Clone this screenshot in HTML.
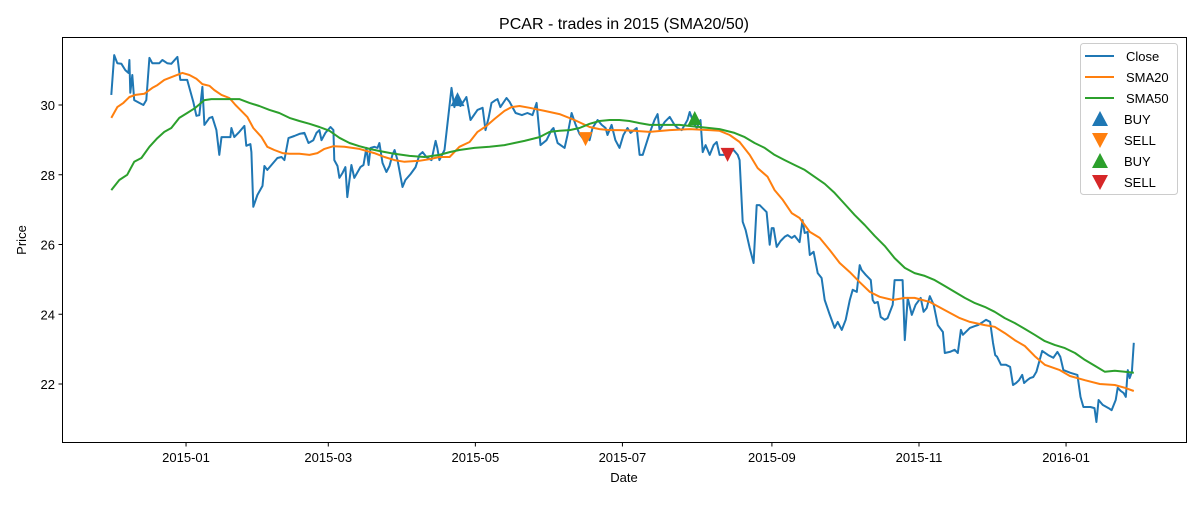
<!DOCTYPE html>
<html><head><meta charset="utf-8"><style>
body{margin:0;background:#fff;}
svg text{font-family:"Liberation Sans","DejaVu Sans",sans-serif;fill:#000;}
</style></head><body>
<svg id="chart" width="1200" height="500" xmlns="http://www.w3.org/2000/svg">
<rect width="1200" height="500" fill="#fff"/>
<text x="624" y="29" font-size="16" text-anchor="middle">PCAR - trades in 2015 (SMA20/50)</text>
<g id="plot"></g>
<rect x="62.5" y="37.5" width="1124" height="405" fill="none" stroke="#000" stroke-width="1"/>
<text x="624" y="482" font-size="13" text-anchor="middle">Date</text>
<text x="26" y="240" font-size="13" text-anchor="middle" transform="rotate(-90 26 240)">Price</text>
<g>
<rect x="1080.5" y="43.5" width="97" height="151" rx="3" fill="#fff" fill-opacity="0.8" stroke="#ccc"/>
<line x1="1085" y1="56" x2="1114" y2="56" stroke="#1f77b4" stroke-width="2"/>
<text x="1126" y="61" font-size="13">Close</text>
<line x1="1085" y1="77" x2="1114" y2="77" stroke="#ff7f0e" stroke-width="2"/>
<text x="1126" y="82" font-size="13">SMA20</text>
<line x1="1085" y1="98" x2="1114" y2="98" stroke="#2ca02c" stroke-width="2"/>
<text x="1126" y="103" font-size="13">SMA50</text>
<polygon points="1100,111 1108,126 1092,126" fill="#1f77b4"/>
<text x="1124" y="124" font-size="13">BUY</text>
<polygon points="1092,133 1108,133 1100,148" fill="#ff7f0e"/>
<text x="1124" y="145" font-size="13">SELL</text>
<polygon points="1100,153 1108,168 1092,168" fill="#2ca02c"/>
<text x="1124" y="166" font-size="13">BUY</text>
<polygon points="1092,175 1108,175 1100,190" fill="#d62728"/>
<text x="1124" y="187" font-size="13">SELL</text>
</g>
</svg>
<script>
// days since 2014-12-01 and values
const closeDays=[0,1.2,2.5,4.2,5.8,7.1,7.5,7.9,8.7,9.5,11.6,13.3,14.5,15.8,17,19.9,21.2,23.2,24.9,27.4,28.6,30.3,31.5,34,35.3,36.5,37.8,38.6,40.7,41.9,43.6,44.8,45.7,49.4,49.8,51,53.1,55.2,56,57.7,58.1,58.9,60.6,62.7,63.5,64.7,66.8,68.9,70.6,71.8,73.5,75.9,78,80.1,81.8,83.8,85.1,86.3,87.2,88.8,90.9,92.1,92.5,93.8,94.6,95.9,97.1,97.9,99.6,100.8,103.3,104.6,105.8,106.7,107.5,109.1,110.4,111.2,112.5,114.1,115.4,116.6,117.5,118.7,120.8,122,124.1,126.2,127.8,129.1,130.7,132.8,134.5,135.2,136.1,138.2,140.3,141.1,142.3,143.6,144.8,146.5,147.3,149,151.9,154,155.2,156.5,157.7,159.4,160.2,161.4,163.9,165.2,167.7,170.3,172.6,174.7,176.4,178,180.5,182.6,183.4,185.1,188,189.2,190.9,192.6,194.2,195.5,197.5,198.4,199.6,201.7,203.4,205,205.8,207.5,209.1,210.8,212.4,214.1,215.4,217.9,219.1,220.4,223.3,225.3,226.6,227.4,229.5,231.6,233.6,234.9,236.6,239,239.9,241.5,242.8,244.4,245.3,246.5,248.2,249.8,251.1,252.3,254,256.1,258.1,259.8,260.6,261.9,263.1,264.8,266.4,267.7,268.9,271.8,273.1,273.9,274.7,276,277.6,279.3,280.5,282.2,283.4,285.5,286.7,287.6,288.8,289.7,291.3,293,294.6,295.9,298,300,301.3,303,304.6,306.3,307.5,309.2,310.4,311.2,312.9,315,315.8,316.6,317.9,319.1,320.8,322,324.1,324.9,327,328.2,329.1,330.3,332,333.6,335.7,336.9,338.2,339.5,341.1,342.8,344.9,345.7,347.8,349.8,351.1,352.4,353.2,356.1,358.2,359.5,361.5,362.8,364.5,365.7,366.6,367.4,369,371.1,372.8,374,375.3,376.5,377.8,378.6,379.9,381.1,382.4,383.7,386.1,388.6,390.7,392.4,393.6,394.9,397.8,400.7,402,403.2,406.1,407.8,408.6,409.5,411.2,413.6,414.9,416.6,417.4,418.7,419.9,420.8,421.6,422.4,423.3,424.1];
const closeVals=[30.29,31.43,31.2,31.18,31,30.92,31.29,30.35,30.86,30.14,30.06,30,30.14,31.35,31.2,31.2,31.29,31.2,31.18,31.38,30.72,30.72,30.72,30.09,29.69,29.71,30.52,29.43,29.63,29.66,29.28,28.57,29.08,29.08,29.34,29.08,29.23,29.4,28.83,28.88,28.65,27.08,27.42,27.68,28.25,28.14,28.31,28.48,28.51,28.42,29.05,29.11,29.17,29.2,28.91,28.99,29.2,29.28,28.99,29.2,29.37,29.28,28.42,28.25,27.91,28.05,28.22,27.36,28.28,27.91,28.22,28.28,28.77,28.28,28.77,28.8,28.77,28.91,28.34,28.08,28.25,28.57,28.71,28.42,27.65,27.85,28.02,28.22,28.57,28.65,28.51,28.42,28.97,28.77,28.42,28.71,30,30.49,29.94,30.29,29.97,30.14,30.23,29.57,29.86,29.92,29.28,29.63,30.06,30.14,30.17,29.94,30.2,30.09,29.77,29.71,29.77,29.71,30.06,28.85,28.99,29.28,29.34,28.91,28.77,29.14,29.77,29.43,29.17,29.05,29.14,28.99,29.34,29.57,29.43,29.34,29.14,29.43,28.99,28.77,29.14,29.34,29.2,29.34,28.57,28.57,29.2,29.57,29.74,29.28,29.51,29.66,29.43,29.34,29.28,29.57,29.8,29.48,29.34,29.57,28.65,28.85,28.57,28.85,28.94,28.57,28.57,28.65,28.71,28.57,28.42,26.65,26.42,25.9,25.47,27.13,27.13,26.93,25.99,26.47,26.47,25.93,26.1,26.22,26.27,26.19,26.25,26.07,26.7,26.33,26.36,25.7,25.79,25.18,25.04,24.41,23.98,23.61,23.78,23.55,23.84,24.41,24.7,24.64,25.41,25.27,25.13,24.98,24.41,24.32,24.35,23.92,23.84,23.89,24.27,24.98,24.98,24.98,23.26,24.47,23.98,24.27,24.47,24.07,24.18,24.52,24.27,23.69,23.49,22.89,22.92,22.98,22.89,23.55,23.41,23.61,23.66,23.69,23.78,23.84,23.78,23.18,22.83,22.78,22.55,22.55,22.49,21.97,22.03,22.11,22.26,22.03,22.11,22.17,22.2,22.35,22.95,22.83,22.75,22.92,22.78,22.4,22.32,22.26,21.63,21.34,21.34,21.31,20.91,21.54,21.4,21.31,21.25,21.54,21.89,21.8,21.74,21.63,22.4,22.17,22.35,23.18];
const sma20Days=[0,2.5,5,7.5,10,13.7,17,19.1,22,26.1,29.5,32.4,35.3,37.8,40.7,42.7,45.7,49,51.5,53.1,56.4,58.9,62.3,64.7,67.6,71,73.9,78,82.2,85.5,88.4,92.1,96.7,102.9,109.1,113.3,117.4,121.6,127.8,132,136.1,140.3,144.4,148.6,151.9,155.6,159,163.1,166,169.3,173.5,179.7,185.9,192.1,198.4,202.5,206.7,210.8,217,223.3,231.6,239.9,248.2,252.3,256.5,260.6,264.8,268.1,272.2,275.1,278.5,282.2,285.5,289.7,293.8,298,302.1,306.3,310.4,314.6,318.7,324.1,329.1,333.2,339.5,345.7,351.9,356.1,362.3,366.4,370.6,374.7,378.9,383,387.2,393.4,397.6,403.8,410,416.2,420.4,424.1];
const sma20Vals=[29.63,29.94,30.06,30.23,30.29,30.32,30.49,30.57,30.72,30.83,30.92,30.86,30.75,30.6,30.55,30.43,30.29,30.2,30,29.89,29.66,29.34,29.08,28.8,28.71,28.62,28.6,28.6,28.57,28.62,28.74,28.82,28.8,28.74,28.62,28.51,28.42,28.37,28.4,28.45,28.51,28.51,28.8,28.94,29.23,29.4,29.6,29.83,29.94,29.97,29.92,29.83,29.74,29.57,29.37,29.31,29.28,29.28,29.26,29.23,29.28,29.31,29.28,29.26,29.14,28.94,28.57,28.19,27.94,27.56,27.28,26.9,26.76,26.36,26.19,25.84,25.47,25.21,24.92,24.64,24.5,24.41,24.47,24.47,24.35,24.12,23.89,23.78,23.69,23.64,23.46,23.26,23.09,22.8,22.55,22.4,22.23,22.11,22,21.97,21.89,21.8];
const sma50Days=[0,3.3,6.6,9.5,12.5,15.8,19.1,22,24.9,28.2,31.5,34.9,38.6,41.5,49,53.1,57.3,61.4,65.6,69.7,73.9,78,82.2,86.3,90.5,94.6,98.8,102.9,107.1,111.2,117.4,123.7,129.9,136.1,140.3,144.4,150.6,156.9,163.1,167.2,171.4,177.6,181.8,185.9,190.1,194.2,198.4,202.5,206.7,210.8,214.9,219.1,223.3,235.7,244,252.3,258.5,262.7,266.8,271,275.1,279.3,283.4,287.6,291.7,295.9,300,304.2,308.3,312.5,316.6,320.8,324.9,329.1,333.2,337.4,341.5,345.7,349.8,354,358.2,362.3,366.4,370.6,374.7,378.9,383,387.2,391.3,395.5,399.7,403.8,408,412.1,416.2,420.4,424.1];
const sma50Vals=[27.56,27.85,28,28.37,28.48,28.8,29.05,29.23,29.34,29.63,29.77,29.92,30.14,30.17,30.17,30.17,30.06,29.97,29.86,29.77,29.63,29.54,29.46,29.37,29.26,29.06,28.91,28.82,28.74,28.68,28.6,28.54,28.51,28.57,28.65,28.71,28.77,28.8,28.85,28.91,28.97,29.08,29.23,29.26,29.28,29.34,29.46,29.54,29.57,29.57,29.54,29.48,29.43,29.43,29.37,29.31,29.2,29.08,28.91,28.77,28.57,28.42,28.28,28.14,27.94,27.74,27.48,27.16,26.85,26.56,26.25,25.96,25.61,25.33,25.18,25.1,24.98,24.81,24.64,24.47,24.32,24.21,24.07,23.89,23.75,23.58,23.41,23.23,23.12,23.03,22.89,22.69,22.52,22.35,22.38,22.35,22.32];
const tradeDays=[143.6,196.7,242,255.6];
const tradeVals=[30.14,29.05,29.6,28.6];
const tradeTypes=["buy","sell","buy","sell"];
const tradeColors=["#1f77b4","#ff7f0e","#2ca02c","#d62728"];
const yTicks=[22,24,26,28,30];
const xTickDays=[31,90,151,212,274,335,396];
const xTickLabels=["2015-01","2015-03","2015-05","2015-07","2015-09","2015-11","2016-01"];

const NS="http://www.w3.org/2000/svg";
const plot=document.getElementById('plot');
function xS(d){return 111.3+d*2.411;}
function yS(v){return 384-(v-22)*34.875;}
function mk(tag,attrs){const e=document.createElementNS(NS,tag);for(const k in attrs)e.setAttribute(k,attrs[k]);plot.appendChild(e);return e;}

yTicks.forEach(v=>{
  const t=mk('line',{x1:58.5,x2:62.5,y1:yS(v),y2:yS(v),stroke:'#000'});
  
  
  const l=mk('text',{x:55,y:yS(v)+5,'font-size':13,'text-anchor':'end'});
  l.textContent=v;
  
  
});
xTickDays.forEach((d,i)=>{
  const t=mk('line',{x1:xS(d),x2:xS(d),y1:442.5,y2:446.5,stroke:'#000'});
  
  
  const l=mk('text',{x:xS(d),y:462,'font-size':13,'text-anchor':'middle'});
  l.textContent=xTickLabels[i];
  
  
});
function line(days,vals,color,name){
  const p=mk('polyline',{points:days.map((d,i)=>xS(d).toFixed(1)+','+yS(vals[i]).toFixed(1)).join(' '),fill:'none',stroke:color,'stroke-width':2,'stroke-linejoin':'round'});
  
  
}
line(closeDays,closeVals,'#1f77b4','close-line');
line(sma20Days,sma20Vals,'#ff7f0e','sma20-line');
line(sma50Days,sma50Vals,'#2ca02c','sma50-line');
tradeDays.forEach((d,i)=>{
  const x=xS(d),y=yS(tradeVals[i]);
  const pts=tradeTypes[i]==='buy'?`${x},${y-8} ${x+7},${y+6} ${x-7},${y+6}`:`${x-7},${y-6} ${x+7},${y-6} ${x},${y+8}`;
  const m=mk('polygon',{points:pts,fill:tradeColors[i]});
  
  
});
</script>
</body></html>
